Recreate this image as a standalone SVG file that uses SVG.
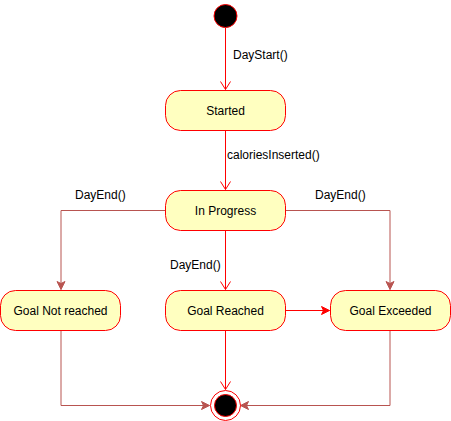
<svg xmlns="http://www.w3.org/2000/svg" width="451" height="421" viewBox="0 0 451 421">
<defs>
<style>
.state{fill:#FFFFC0;stroke:#FF0000;stroke-width:1}
.lbl{font-family:"Liberation Sans",Arial,sans-serif;font-size:12px;fill:#000}
.ctr{text-anchor:middle}
.red{fill:none;stroke:#FF0000;stroke-width:1}
.brn{fill:none;stroke:#B85450;stroke-width:1}
</style>
<marker id="open" markerWidth="12" markerHeight="12" viewBox="0 0 12 12" refX="10" refY="6" orient="auto" markerUnits="userSpaceOnUse">
<path d="M2,1 L10,6 L2,11" fill="none" stroke="#FF0000" stroke-width="1"/>
</marker>
<marker id="blockB" markerWidth="10" markerHeight="10" viewBox="0 0 10 10" refX="9" refY="5" orient="auto" markerUnits="userSpaceOnUse">
<path d="M1,1 L9,5 L1,9 L3,5 Z" fill="#B85450" stroke="#B85450" stroke-width="1"/>
</marker>
<marker id="blockR" markerWidth="10" markerHeight="10" viewBox="0 0 10 10" refX="9" refY="5" orient="auto" markerUnits="userSpaceOnUse">
<path d="M1,1 L9,5 L1,9 L3,5 Z" fill="#FF0000" stroke="#FF0000" stroke-width="1"/>
</marker>
</defs>
<rect width="451" height="421" fill="#FFFFFF"/>
<g id="connectors">
<path class="red" d="M225.5,28 L225.5,89.5" marker-end="url(#open)"/>
<path class="red" d="M225.5,130 L225.5,189.5" marker-end="url(#open)"/>
<path class="brn" d="M165,210.5 L61,210.5 L61,289.5" marker-end="url(#blockB)"/>
<path class="brn" d="M285,210.5 L390,210.5 L390,289.5" marker-end="url(#blockB)"/>
<path class="red" d="M225.5,230 L225.5,289.5" marker-end="url(#open)"/>
<path class="red" d="M285,310.5 L329.5,310.5" marker-end="url(#blockR)"/>
<path class="brn" d="M61,330 L61,405.5 L209.5,405.5" marker-end="url(#blockB)"/>
<path class="brn" d="M390,330 L390,405.5 L240.5,405.5" marker-end="url(#blockB)"/>
<path class="red" d="M225.5,330 L225.5,389.5" marker-end="url(#open)"/>
<text class="lbl" x="233" y="59">DayStart()</text>
<text class="lbl" x="227" y="159">caloriesInserted()</text>
<text class="lbl" x="75" y="199">DayEnd()</text>
<text class="lbl" x="315" y="199">DayEnd()</text>
<text class="lbl" x="170" y="269">DayEnd()</text>
</g>
<g id="start">
<circle cx="225.5" cy="16" r="11.5" fill="#000000" stroke="#FF0000" stroke-width="1"/>
</g>
<g id="started">
<rect class="state" x="165.5" y="90.5" width="120" height="40" rx="15" ry="15"/>
<text class="lbl ctr" x="225.5" y="114.5">Started</text>
</g>
<g id="inprogress">
<rect class="state" x="165.5" y="190.5" width="120" height="40" rx="15" ry="15"/>
<text class="lbl ctr" x="225.5" y="214.5">In Progress</text>
</g>
<g id="goalnotreached">
<rect class="state" x="0.5" y="290.5" width="120" height="40" rx="15" ry="15"/>
<text class="lbl ctr" x="60.5" y="314.5">Goal Not reached</text>
</g>
<g id="goalreached">
<rect class="state" x="165.5" y="290.5" width="120" height="40" rx="15" ry="15"/>
<text class="lbl ctr" x="225.5" y="314.5">Goal Reached</text>
</g>
<g id="goalexceeded">
<rect class="state" x="330.5" y="290.5" width="120" height="40" rx="15" ry="15"/>
<text class="lbl ctr" x="390.5" y="314.5">Goal Exceeded</text>
</g>
<g id="end">
<circle cx="225.5" cy="405.5" r="15" fill="#FFFFFF" stroke="#FF0000" stroke-width="1"/>
<circle cx="225.5" cy="405.5" r="11" fill="#000000" stroke="#FF0000" stroke-width="1"/>
</g>
</svg>
